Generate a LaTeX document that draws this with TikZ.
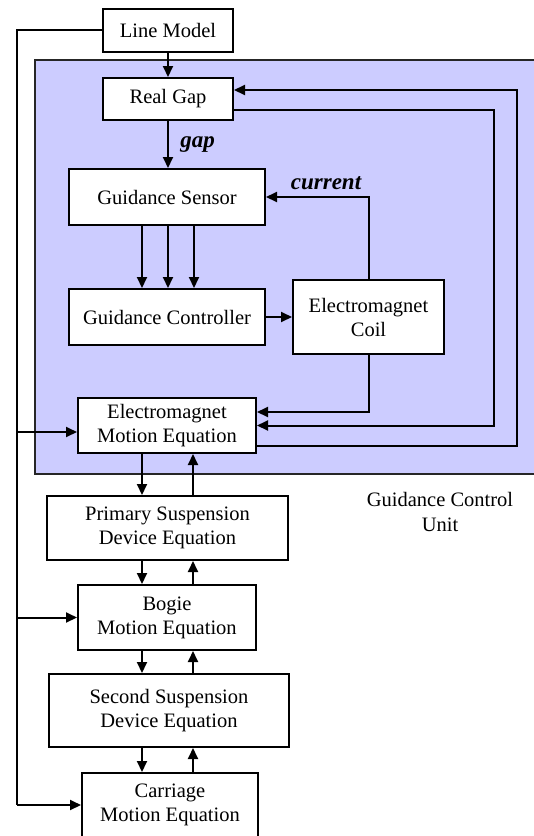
\documentclass[tikz,border=0pt]{standalone}
\usepackage{fontspec}
\setmainfont{Liberation Serif}
\usetikzlibrary{calc,arrows.meta,positioning}
\definecolor{unitBlue}{RGB}{204,204,255}

\tikzset{
  block/.style={draw=black, line width=2pt, fill=white, align=center,
    inner sep=0pt, font=\fontsize{20.5}{24}\selectfont},
  wire/.style={line width=2pt},
  arr/.style={wire, -{Triangle[length=11pt,width=10pt]}},
  sig/.style={font=\fontsize{23}{26}\selectfont\bfseries\itshape}
}

\begin{document}
\begin{tikzpicture}[x=1pt,y=-1pt]
\useasboundingbox (0,0) rectangle (534,836);

% guidance control unit
\filldraw[fill=unitBlue, draw=black!85, line width=2pt] (35,60) rectangle (580,474);
\node[align=center, font=\fontsize{20.5}{25}\selectfont] (unitlabel) at (440,512) {Guidance Control\\Unit};

% blocks
\node[block, minimum width=130pt, minimum height=43pt] (linemodel) at (168,30) {Line Model};
\node[block, minimum width=130pt, minimum height=42pt] (realgap) at (168,99) {Real Gap};
\node[block, minimum width=196pt, minimum height=56pt] (sensor) at (167,197) {Guidance Sensor};
\node[block, minimum width=196pt, minimum height=56pt] (controller) at (167,317) {Guidance Controller};
\node[block, minimum width=151pt, minimum height=74pt] (coil) at (368.5,317) {Electromagnet\\Coil};
\node[block, minimum width=178pt, minimum height=55pt] (em) at (167,425.5) {Electromagnet\\Motion Equation};
\node[block, minimum width=241pt, minimum height=64pt] (primary) at (167.5,528) {Primary Suspension\\Device Equation};
\node[block, minimum width=178pt, minimum height=65pt] (bogie) at (167,617.5) {Bogie\\Motion Equation};
\node[block, minimum width=240pt, minimum height=73pt] (second) at (169,710.5) {Second Suspension\\Device Equation};
\node[block, minimum width=176pt, minimum height=64pt] (carriage) at (170,805) {Carriage\\Motion Equation};

% helper coordinates
\coordinate (bus) at (17,0);
\coordinate (inner) at (494,0);
\coordinate (outer) at (517,0);
\coordinate (dn) at (142,0);
\coordinate (up) at (193,0);

% line model feeds
\draw[arr] (linemodel) -- (realgap);
\draw[wire] (linemodel.west) -| (bus |- carriage.west);
\draw[arr] (bus |- carriage.west) -- (carriage.west);
\draw[arr] (bus |- bogie.west) -- (bogie.west);
\draw[arr] ($(bus |- em.west)+(0,6.5)$) -- ($(em.west)+(0,6.5)$);

% sensing loop
\draw[arr] (realgap.south) -- node[sig, right=8pt] {gap} (realgap.south |- sensor.north);
\foreach \dx in {-25,1,27}
  \draw[arr] ($(sensor.south)+(\dx,0)$) -- ($(controller.north)+(\dx,0)$);
\draw[arr] (controller) -- (coil);
\draw[arr] (coil.north) |- (sensor.east);
\node[sig] (curlabel) at (326,183) {current};
\draw[arr] (coil.south) |- ($(em.east)+(0,-13.5)$);

% gap feedback loops
\draw[arr] ($(realgap.east)+(0,11)$) -| (inner |- em.east) -- (em.east);
\draw[arr] ($(em.east)+(0,20.5)$) -| (outer |- realgap.east) |- ($(realgap.east)+(0,-9)$);

% body chain
\draw[arr] (dn |- em.south) -- (dn |- primary.north);
\draw[arr] (up |- primary.north) -- (up |- em.south);
\draw[arr] (dn |- primary.south) -- (dn |- bogie.north);
\draw[arr] (up |- bogie.north) -- (up |- primary.south);
\draw[arr] (dn |- bogie.south) -- (dn |- second.north);
\draw[arr] (up |- second.north) -- (up |- bogie.south);
\draw[arr] (dn |- second.south) -- (dn |- carriage.north);
\draw[arr] (up |- carriage.north) -- (up |- second.south);
\end{tikzpicture}
\end{document}
